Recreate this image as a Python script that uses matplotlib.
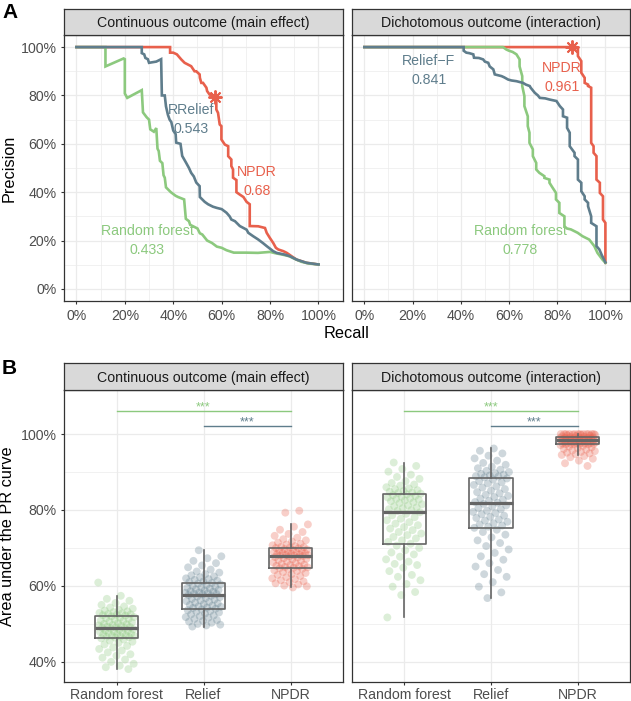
import numpy as np
import matplotlib.pyplot as plt
from matplotlib.ticker import FixedLocator

plt.rcParams['font.family'] = ['Liberation Sans', 'DejaVu Sans']

# colours (ggplot-like)
col_rf = '#8CC97E'
col_relief = '#5F7D8C'
col_npdr = '#E8604C'
grid_col = '#EBEBEB'
frame_col = '#333333'
tick_col = '#4D4D4D'

# ---- Panel A: precision-recall curves (recall %, precision %) ----
cont_rf_recall = [0, 12, 12, 19.5, 20, 20, 21, 27, 27.5, 29, 30, 30.5, 32, 33, 33.5, 34, 34.5, 35.5, 36, 36.5,
                  37, 38, 39, 41, 42, 44.5, 45.2, 46.5, 47, 50, 51, 52, 54, 56, 58, 60, 62, 65, 70, 75, 80,
                  82, 85, 88, 90, 93, 96, 100]
cont_rf_prec = [100, 100, 92, 95.3, 95, 80.8, 79, 82.2, 73, 71, 70, 66, 65, 66.5, 58, 57, 53, 52, 47, 46, 42,
                41, 40, 38.5, 38, 37, 29, 28, 26.5, 25, 23, 22.5, 20, 19, 17.5, 17, 16, 15, 15, 14.9, 15.3,
                14.8, 14.2, 13.5, 12.5, 11.2, 10.5, 10.1]

cont_relief_recall = [0, 27, 27, 28, 28.5, 29.5, 30, 33, 35, 35.3, 36.5, 37, 37.8, 38.5, 39.2, 40, 41, 41.2,
                      43, 43.7, 45.4, 46.5, 47.4, 48.5, 49.5, 50.9, 51, 52, 53, 54.4, 56.4, 58, 60, 62,
                      63.3, 64, 65.5, 67.5, 70.3, 71, 73, 75, 77, 78.6, 81.3, 82.7, 86, 88.2, 91, 95, 100]
cont_relief_prec = [100, 100, 97.5, 97, 95.5, 95, 93.5, 94, 95, 80, 80, 75.5, 72, 70, 69, 65.5, 64, 60.5,
                    60, 55, 52, 50, 48, 46.5, 44, 42.5, 38, 37, 36, 35, 34, 33.5, 33, 31.5, 30, 28.7, 28,
                    26, 24.5, 23.2, 21.8, 20.5, 19, 17.7, 15.6, 14.9, 14.2, 13.5, 12.1, 10.8, 10.1]

cont_npdr_recall = [0, 38.7, 38.7, 40, 41.5, 43.3, 44.7, 47.4, 48.8, 49.5, 50.9, 51, 51.6, 52.3, 53.7, 54,
                    55, 56.4, 57.4, 57.8, 57.8, 58.5, 59.2, 59.9, 59.9, 61.3, 62.7, 62.7, 64, 64, 64.7, 64.7,
                    66.1, 66.1, 67.5, 69, 70.3, 71.6, 71.6, 75.1, 77.9, 78.6, 79.9, 81.3, 82.4, 83.4, 85.5,
                    86.9, 88.9, 91, 95, 100]
cont_npdr_prec = [100, 100, 97.7, 97.7, 97, 94.9, 93.5, 92.1, 90, 90, 88.7, 87.3, 85.2, 85.2, 83.2, 81.8,
                  80.4, 79.7, 79.4, 78.3, 74.2, 72.8, 68, 67.3, 61.8, 59.7, 59, 54.9, 53.5, 50.8, 49.4, 46,
                  45, 40, 39, 38, 36, 35, 26, 25.9, 25.2, 23.2, 21.1, 19, 17, 16.3, 15.6, 14.9, 13.5, 12.1,
                  10.8, 10.1]

dich_rf_recall = [0, 57.5, 58.9, 60, 61.5, 63.1, 64.4, 64.4, 65.5, 65.5, 66.4, 66.4, 67.8, 67.8, 68.5, 68.5,
                  69.9, 69.9, 71.3, 71.3, 72.6, 74.7, 74.7, 76.8, 76.8, 78, 79.5, 79.5, 80.9, 80.9, 83, 83,
                  84, 85.7, 88.5, 90.5, 93.3, 95.4, 96.7, 98.8, 100]
dich_rf_prec = [100, 100, 99, 98.5, 98, 97, 94.9, 92, 88, 83.9, 79.7, 75.6, 71.4, 67.3, 64.6, 60.4, 57.7,
                54.9, 52.1, 49.4, 48, 46.6, 45.9, 45.2, 43.9, 42, 39.7, 37, 35.6, 31.4, 30, 25.9, 25, 24.6,
                23.2, 21.8, 20.4, 17.7, 14.9, 12.1, 10.8]

dich_relief_recall = [0, 41.2, 41.2, 42.3, 43.5, 45.2, 45.5, 47.5, 49.3, 50, 51.4, 52, 53.5, 54.1, 56.9, 58,
                      59.6, 61, 63.1, 65.8, 67, 68.6, 69, 70.7, 72, 72.8, 75, 76.9, 79.7, 81.1, 82.4, 82.4,
                      84.1, 84.1, 85.2, 85.2, 87.2, 87.2, 88.6, 88.6, 90, 90, 91.4, 91.4, 92.8, 92.8, 94.1,
                      94.1, 96.3, 96.3, 97.5, 98.5, 100]
dich_relief_prec = [100, 100, 98.5, 97.7, 97.5, 97, 95.6, 95.5, 94.9, 94, 93.5, 92, 90.8, 88.7, 88, 87.5,
                    86.6, 86.2, 85.9, 85.2, 84.5, 83.9, 83.2, 81.1, 80, 79, 78.8, 78.3, 77.7, 75.6, 74.2,
                    71.4, 70.8, 66.6, 64.6, 59, 56.3, 54.9, 53.5, 45.2, 43.9, 40.4, 38.3, 37, 35.6, 34.2,
                    30, 27.3, 25.9, 17.7, 16.3, 14, 11]

dich_npdr_recall = [0, 88, 88.6, 88.6, 90, 90, 91.4, 91.4, 92.8, 92.8, 94.1, 94.1, 95.1, 95.1, 96.3, 96.3,
                    97.7, 97.7, 99, 99, 100, 100]
dich_npdr_prec = [100, 100, 99, 96.3, 94.2, 89.4, 87.3, 85.2, 84.5, 83.9, 83.2, 60.4, 59, 56.3, 54.9, 45.2,
                  43.9, 39.7, 38.3, 28.7, 27.3, 10.8]

star_recall = [57.4, 86.1]
star_prec = [79.4, 100]

pr_facets = ['Continuous outcome (main effect)', 'Dichotomous outcome (interaction)']
auc_labels = [['RRelief\n0.543', 'NPDR\n0.68', 'Random forest\n0.433'],
              ['Relief\u2212F\n0.841', 'NPDR\n0.961', 'Random forest\n0.778']]

# ---- Panel B: area under PR curve per replicate (%) ----
methods = ['Random forest', 'Relief', 'NPDR']
auc_cont_rf = [60.9, 57.4, 56.6, 56.1, 55.5, 55.0, 54.6, 54.3, 54.0, 53.7, 53.5, 53.3, 53.1, 52.9, 52.8, 52.6,
               52.5, 52.4, 52.3, 52.2, 52.0, 51.8, 51.6, 51.5, 51.3, 51.1, 50.9, 50.8, 50.6, 50.4, 50.2, 50.0,
               49.9, 49.7, 49.6, 49.5, 49.3, 49.2, 49.1, 49.0, 48.9, 48.8, 48.6, 48.5, 48.3, 48.2, 48.0, 47.9,
               47.7, 47.6, 47.4, 47.3, 47.2, 47.0, 46.9, 46.8, 46.7, 46.6, 46.5, 46.4, 46.2, 45.9, 45.6, 45.3,
               45.0, 44.6, 44.2, 43.8, 43.4, 43.0, 42.5, 42.0, 41.6, 41.1, 40.6, 40.0, 39.5, 39.0, 38.6, 38.1]
auc_cont_relief = [69.4, 67.8, 67.3, 66.6, 66.0, 65.4, 64.9, 64.3, 63.8, 63.5, 63.1, 62.8, 62.5, 62.3, 62.0,
                   61.8, 61.6, 61.4, 61.2, 61.0, 60.8, 60.6, 60.4, 60.2, 60.0, 59.8, 59.6, 59.5, 59.3, 59.1,
                   58.9, 58.8, 58.6, 58.5, 58.3, 58.2, 58.1, 58.0, 57.9, 57.8, 57.6, 57.4, 57.2, 57.0, 56.8,
                   56.6, 56.4, 56.2, 56.0, 55.8, 55.6, 55.4, 55.2, 55.0, 54.8, 54.6, 54.5, 54.3, 54.2, 54.0,
                   53.8, 53.6, 53.4, 53.2, 53.0, 52.7, 52.5, 52.2, 52.0, 51.8, 51.6, 51.3, 51.0, 50.8, 50.6,
                   50.3, 50.0, 49.8, 49.6, 49.3]
auc_cont_npdr = [79.8, 79.3, 76.2, 75.6, 74.8, 74.2, 73.7, 73.2, 72.7, 72.3, 72.0, 71.7, 71.4, 71.1, 70.9,
                 70.7, 70.5, 70.3, 70.2, 70.1, 70.0, 69.9, 69.7, 69.6, 69.5, 69.3, 69.2, 69.0, 68.9, 68.8,
                 68.7, 68.6, 68.5, 68.4, 68.3, 68.2, 68.1, 68.0, 68.0, 67.9, 67.8, 67.6, 67.5, 67.3, 67.1,
                 67.0, 66.8, 66.6, 66.4, 66.2, 66.0, 65.8, 65.6, 65.5, 65.3, 65.2, 65.0, 64.9, 64.8, 64.7,
                 64.5, 64.3, 64.1, 63.9, 63.6, 63.4, 63.1, 62.9, 62.6, 62.3, 62.0, 61.8, 61.5, 61.2, 61.0,
                 60.7, 60.4, 60.1, 59.9, 59.6]
auc_dich_rf = [92.5, 91.6, 90.8, 90.1, 89.3, 88.7, 88.2, 87.6, 87.1, 86.7, 86.4, 86.0, 85.7, 85.5, 85.2,
               85.0, 84.8, 84.6, 84.5, 84.3, 84.1, 83.9, 83.7, 83.5, 83.3, 83.1, 82.9, 82.7, 82.5, 82.3,
               82.0, 81.8, 81.5, 81.2, 81.0, 80.7, 80.5, 80.2, 80.0, 79.8, 79.4, 79.0, 78.6, 78.1, 77.7,
               77.3, 76.8, 76.4, 76.0, 75.5, 75.1, 74.7, 74.2, 73.8, 73.4, 72.9, 72.5, 72.0, 71.6, 71.1,
               70.6, 70.0, 69.4, 68.8, 68.3, 67.7, 67.0, 66.4, 65.8, 65.5, 64.8, 63.9, 62.9, 62.4, 61.5,
               60.5, 59.8, 58.4, 57.6, 51.7]
auc_dich_relief = [96.2, 95.6, 94.9, 94.3, 93.6, 93.0, 92.4, 91.9, 91.4, 91.0, 90.6, 90.3, 90.0, 89.7, 89.5,
                   89.3, 89.1, 88.9, 88.8, 88.6, 88.3, 88.0, 87.6, 87.3, 87.0, 86.6, 86.2, 85.9, 85.5, 85.1,
                   84.7, 84.4, 84.0, 83.7, 83.4, 83.0, 82.7, 82.4, 82.1, 81.9, 81.6, 81.2, 80.9, 80.5, 80.2,
                   79.8, 79.5, 79.2, 78.9, 78.5, 78.2, 77.9, 77.5, 77.2, 76.9, 76.5, 76.2, 75.9, 75.6, 75.3,
                   74.8, 74.2, 73.5, 72.8, 72.0, 71.3, 70.5, 69.6, 68.7, 67.8, 66.9, 66.0, 65.1, 64.2, 63.1,
                   62.4, 61.0, 59.8, 58.3, 56.8]
auc_dich_npdr = [100.0, 100.0, 100.0, 100.0, 100.0, 100.0, 100.0, 100.0, 100.0, 100.0, 100.0, 100.0, 99.9,
                 99.8, 99.8, 99.7, 99.6, 99.5, 99.4, 99.3, 99.2, 99.1, 99.1, 99.0, 99.0, 98.9, 98.9, 98.8,
                 98.8, 98.8, 98.7, 98.7, 98.7, 98.7, 98.6, 98.6, 98.6, 98.6, 98.5, 98.5, 98.4, 98.3, 98.2,
                 98.1, 98.0, 97.9, 97.8, 97.8, 97.7, 97.7, 97.6, 97.6, 97.5, 97.5, 97.4, 97.4, 97.4, 97.3,
                 97.3, 97.3, 97.1, 96.9, 96.7, 96.5, 96.3, 96.1, 95.9, 95.7, 95.5, 95.3, 95.1, 94.9, 94.7,
                 94.5, 94.2, 93.9, 93.5, 93.0, 92.3, 91.6]
sig_text = '***'


def px(x0, y0, x1, y1):
    # pixel box (top-left origin) -> figure fraction rect
    W, H = 631, 701
    return [x0 / W, 1 - y1 / H, (x1 - x0) / W, (y1 - y0) / H]


def strip(rect, label):
    s = fig.add_axes(rect)
    s.set_facecolor('#D9D9D9')
    s.set_xticks([])
    s.set_yticks([])
    for sp in s.spines.values():
        sp.set_color(frame_col)
        sp.set_linewidth(0.9)
    s.text(0.5, 0.45, label, ha='center', va='center', fontsize=10.2, color='#1A1A1A')


def style_panel(ax):
    ax.set_facecolor('white')
    for sp in ax.spines.values():
        sp.set_color(frame_col)
        sp.set_linewidth(0.9)
    ax.grid(which='major', color=grid_col, lw=0.9, zorder=0)
    ax.grid(which='minor', color=grid_col, lw=0.5, zorder=0)
    ax.set_axisbelow(True)
    ax.tick_params(which='major', length=2.5, width=0.8, color=frame_col,
                   labelcolor=tick_col, labelsize=10.2, pad=3.2)
    ax.tick_params(which='minor', length=0)


fig = plt.figure(figsize=(6.31, 7.01), dpi=100)

# ---------------- Panel A ----------------
pct_ticks = [0, 20, 40, 60, 80, 100]
pct_labels = [f'{t}%' for t in pct_ticks]
curves = [
    [(cont_npdr_recall, cont_npdr_prec, col_npdr), (cont_rf_recall, cont_rf_prec, col_rf),
     (cont_relief_recall, cont_relief_prec, col_relief)],
    [(dich_npdr_recall, dich_npdr_prec, col_npdr), (dich_rf_recall, dich_rf_prec, col_rf),
     (dich_relief_recall, dich_relief_prec, col_relief)],
]
label_xy = [[(47.3, 70), (74.5, 44.5), (29.3, 20)], [(26.8, 90.5), (82, 87.5), (64.6, 20)]]
label_cols = [col_relief, col_npdr, col_rf]
xcols = [(64.3, 342.7), (352.3, 629.5)]

for k in range(2):
    ax = fig.add_axes(px(xcols[k][0], 35, xcols[k][1], 301))
    strip(px(xcols[k][0], 9, xcols[k][1], 35), pr_facets[k])
    for r, p, c in curves[k]:
        ax.plot(r, p, color=c, lw=1.9, solid_joinstyle='miter', zorder=3)
    ax.plot(star_recall[k], star_prec[k], marker=(8, 2, 0), ms=10, mew=1.4,
            color=col_npdr, zorder=4)
    for (tx, ty), lab, c in zip(label_xy[k], auc_labels[k], label_cols):
        ax.text(tx, ty, lab, color=c, fontsize=10.2, ha='center', va='center',
                linespacing=1.45, zorder=5)
    ax.set_xlim(-5, 110)
    ax.set_ylim(-5, 105)
    ax.set_xticks(pct_ticks)
    ax.set_xticklabels(pct_labels)
    ax.xaxis.set_minor_locator(FixedLocator([10, 30, 50, 70, 90]))
    ax.yaxis.set_minor_locator(FixedLocator([10, 30, 50, 70, 90]))
    ax.set_yticks(pct_ticks)
    ax.set_yticklabels(pct_labels if k == 0 else [])
    style_panel(ax)
    if k == 1:
        ax.tick_params(axis='y', length=0)

fig.text(9 / 631, 1 - 168 / 701, 'Precision', rotation=90, ha='center', va='center', fontsize=11.7)
fig.text(346.7 / 631, 1 - 333 / 701, 'Recall', ha='center', va='center', fontsize=11.7)

# ---------------- Panel B ----------------
auc_groups = [[auc_cont_rf, auc_cont_relief, auc_cont_npdr],
              [auc_dich_rf, auc_dich_relief, auc_dich_npdr]]
pt_cols = [col_rf, col_relief, col_npdr]
b_ticks = [40, 60, 80, 100]

for k in range(2):
    ax = fig.add_axes(px(xcols[k][0], 390, xcols[k][1], 682))
    strip(px(xcols[k][0], 363, xcols[k][1], 390), pr_facets[k])
    for j, vals in enumerate(auc_groups[k]):
        n = len(vals)
        offs = ((np.arange(n) * 0.618034 + 0.37 * j + 0.21 * k) % 1 - 0.5) * 0.42
        ax.scatter(j + 1 + offs, vals, s=32, color=pt_cols[j], alpha=0.3,
                   edgecolors='none', zorder=2)
    ax.boxplot(auc_groups[k], positions=[1, 2, 3], widths=0.5, showfliers=False,
               showcaps=False, whis=1.5, zorder=3,
               boxprops=dict(color='#656565', lw=1.2),
               whiskerprops=dict(color='#656565', lw=1.2),
               medianprops=dict(color='#656565', lw=2.3))
    # significance brackets
    ax.plot([1, 3], [106.1, 106.1], color=col_rf, lw=1.0, zorder=4)
    ax.plot([2, 3], [102.2, 102.2], color=col_relief, lw=1.0, zorder=4)
    ax.text(2, 107.0, sig_text, color=col_rf, fontsize=9, ha='center', va='center')
    ax.text(2.5, 103.1, sig_text, color=col_relief, fontsize=9, ha='center', va='center')
    ax.set_xlim(0.4, 3.6)
    ax.set_ylim(34.7, 111.6)
    ax.set_xticks([1, 2, 3])
    ax.set_xticklabels(methods)
    ax.set_yticks(b_ticks)
    ax.yaxis.set_minor_locator(FixedLocator([50, 70, 90]))
    ax.set_yticklabels([f'{t}%' for t in b_ticks] if k == 0 else [])
    style_panel(ax)
    ax.tick_params(axis='x', pad=1.5)
    if k == 1:
        ax.tick_params(axis='y', length=0)

fig.text(8 / 631, 1 - 536 / 701, 'Area under the PR curve', rotation=90, ha='center', va='center',
         fontsize=11.7)

fig.text(2 / 631, 1 - 3 / 701, 'A', fontsize=15, fontweight='bold', ha='left', va='top')
fig.text(2 / 631, 1 - 359 / 701, 'B', fontsize=15, fontweight='bold', ha='left', va='top')

fig.savefig('out.png', dpi=100)
